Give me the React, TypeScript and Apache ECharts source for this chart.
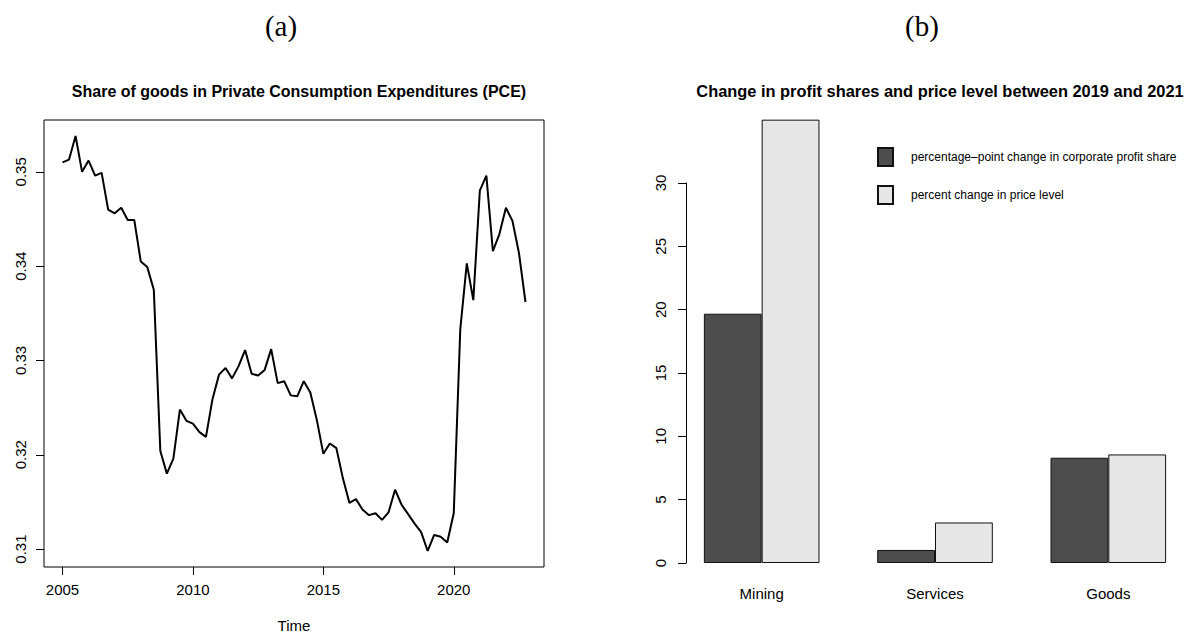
import React, { useEffect, useRef } from "react";
import * as echarts from "echarts";

// Panel (a): quarterly share of goods in PCE, 2005 Q1 .. 2022 Q4
const startYear = 2005;
const pceGoodsShare = [
  0.3510, 0.3513, 0.3538, 0.3500,
  0.3512, 0.3496, 0.3499, 0.3460,
  0.3456, 0.3462, 0.3449, 0.3449,
  0.3405, 0.3399, 0.3375, 0.3204,
  0.3180, 0.3196, 0.3248, 0.3236,
  0.3233, 0.3224, 0.3219, 0.3259,
  0.3285, 0.3292, 0.3281, 0.3294,
  0.3311, 0.3286, 0.3284, 0.3290,
  0.3312, 0.3276, 0.3278, 0.3263,
  0.3262, 0.3278, 0.3266, 0.3237,
  0.3201, 0.3212, 0.3207, 0.3175,
  0.3149, 0.3153, 0.3142, 0.3136,
  0.3138, 0.3131, 0.3139, 0.3163,
  0.3147, 0.3137, 0.3127, 0.3118,
  0.3098, 0.3115, 0.3113, 0.3107,
  0.3138, 0.3333, 0.3403, 0.3364,
  0.3480, 0.3496, 0.3416, 0.3434,
  0.3462, 0.3448, 0.3414, 0.3362,
];
const xTickYears = [2005, 2010, 2015, 2020];
const yTickShares = [0.31, 0.32, 0.33, 0.34, 0.35];

// Panel (b): change between 2019 and 2021
const sectors = ["Mining", "Services", "Goods"];
const profitShareChange = [19.68, 1.03, 8.31];
const priceLevelChange = [35.0, 3.2, 8.57];
const seriesNames = [
  "percentage\u2013point change in corporate profit share",
  "percent change in price level",
];
const yTicksRight = [0, 5, 10, 15, 20, 25, 30];

const SANS = "'Liberation Sans', Arial, Helvetica, sans-serif";
const SERIF = "'Liberation Serif', 'DejaVu Serif', serif";
const LABEL_SIZE = 15;
const TITLE_SIZE = 16;

export default function App() {
  const ref = useRef<HTMLDivElement>(null);

  useEffect(() => {
    if (!ref.current) return;
    const chart = echarts.init(ref.current, null, { renderer: "svg" });
    const lineData = pceGoodsShare.map((v, i) => [startYear + i / 4, v]);
    const labelStyle = { fontSize: LABEL_SIZE, color: "#000", fontFamily: SANS };

    const option: any = {
      animation: false,
      backgroundColor: "#ffffff",
      textStyle: { fontFamily: SANS, color: "#000" },
      title: [
        {
          text: "(a)",
          left: 276,
          top: 6,
          textAlign: "center",
          textStyle: { fontFamily: SERIF, fontSize: 29, fontWeight: "normal", color: "#000" },
        },
        {
          text: "(b)",
          left: 917,
          top: 6,
          textAlign: "center",
          textStyle: { fontFamily: SERIF, fontSize: 29, fontWeight: "normal", color: "#000" },
        },
        {
          text: "Share of goods in Private Consumption Expenditures (PCE)",
          left: 294,
          top: 78,
          textAlign: "center",
          textStyle: { fontFamily: SANS, fontSize: TITLE_SIZE, fontWeight: "bold", color: "#000" },
        },
        {
          text: "Change in profit shares and price level between 2019 and 2021",
          left: 935,
          top: 78,
          textAlign: "center",
          textStyle: { fontFamily: SANS, fontSize: 16.4, fontWeight: "bold", color: "#000" },
        },
      ],
      legend: {
        data: seriesNames,
        orient: "vertical",
        left: 877,
        top: 147,
        padding: 0,
        itemWidth: 15,
        itemHeight: 18,
        itemGap: 18,
        icon: "rect",
        textStyle: { fontFamily: SANS, fontSize: 12, color: "#000", padding: [0, 0, 0, 13] },
      },
      grid: [
        {
          left: 44,
          top: 120,
          width: 500,
          height: 447,
          show: true,
          borderColor: "#000",
          borderWidth: 1,
          backgroundColor: "transparent",
          containLabel: false,
          outerBoundsMode: "none",
        },
        {
          left: 675,
          top: 183,
          width: 520,
          height: 380,
          containLabel: false,
          outerBoundsMode: "none",
        },
      ],
      xAxis: [
        {
          type: "value",
          gridIndex: 0,
          min: 2004.29,
          max: 2023.46,
          axisLine: { show: false },
          splitLine: { show: false },
          axisTick: { show: true, length: 8, customValues: xTickYears, lineStyle: { color: "#000" } },
          axisLabel: {
            ...labelStyle,
            customValues: xTickYears,
            formatter: (v: number) => String(Math.round(v)),
            margin: 15,
          },
          name: "Time",
          nameLocation: "middle",
          nameGap: 51,
          nameTextStyle: { ...labelStyle },
        },
        {
          type: "category",
          gridIndex: 1,
          data: sectors,
          axisLine: { show: false },
          axisTick: { show: false },
          splitLine: { show: false },
          axisLabel: { ...labelStyle, margin: 23 },
        },
      ],
      yAxis: [
        {
          type: "value",
          gridIndex: 0,
          min: 0.3081,
          max: 0.3555,
          axisLine: { show: false },
          splitLine: { show: false },
          axisTick: { show: true, length: 8, customValues: yTickShares, lineStyle: { color: "#000" } },
          axisLabel: {
            ...labelStyle,
            customValues: yTickShares,
            rotate: 90,
            formatter: (v: number) => v.toFixed(2),
            margin: 16,
          },
        },
        {
          type: "value",
          gridIndex: 1,
          min: 0,
          max: 30,
          offset: -11,
          axisLine: { show: true, lineStyle: { color: "#000", width: 1 } },
          splitLine: { show: false },
          axisTick: { show: true, length: 8, customValues: yTicksRight, lineStyle: { color: "#000" } },
          axisLabel: {
            ...labelStyle,
            customValues: yTicksRight,
            rotate: 90,
            margin: 18,
          },
        },
      ],
      series: [
        {
          type: "line",
          xAxisIndex: 0,
          yAxisIndex: 0,
          data: lineData,
          showSymbol: false,
          symbol: "none",
          lineStyle: { color: "#000", width: 2 },
        },
        {
          name: seriesNames[0],
          type: "bar",
          xAxisIndex: 1,
          yAxisIndex: 1,
          data: profitShareChange,
          barWidth: 57.8,
          barGap: "0%",
          clip: false,
          itemStyle: { color: "#4d4d4d", borderColor: "#111", borderWidth: 1 },
        },
        {
          name: seriesNames[1],
          type: "bar",
          xAxisIndex: 1,
          yAxisIndex: 1,
          data: priceLevelChange,
          barWidth: 57.8,
          barGap: "0%",
          clip: false,
          itemStyle: { color: "#e6e6e6", borderColor: "#111", borderWidth: 1 },
        },
      ],
    };

    chart.setOption(option);
    return () => chart.dispose();
  }, []);

  return (
    <div
      ref={ref}
      style={{ position: "fixed", left: 0, top: 0, width: 1189, height: 635, background: "#fff" }}
    />
  );
}
